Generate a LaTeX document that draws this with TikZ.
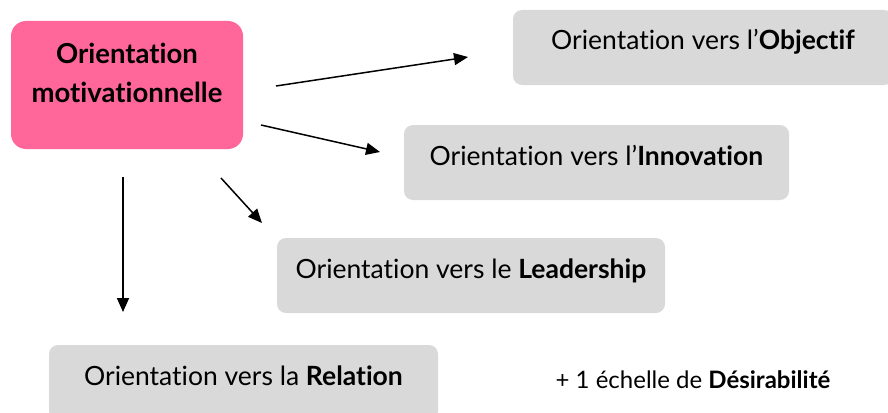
\documentclass[tikz,border=0pt]{standalone}
\usepackage{fontspec}
\setmainfont{Lato}[Ligatures=NoCommon]
\definecolor{MotivPink}{RGB}{255,102,153}
\definecolor{BoxGrey}{RGB}{217,217,217}
\usepackage{tikz}
\usetikzlibrary{arrows.meta, positioning}

\tikzset{
  greybox/.style={fill=BoxGrey, rounded corners=9pt, inner sep=0pt,
                  minimum height=75pt, text height=15pt, text depth=10pt,
                  font=\fontsize{26.5}{30}\selectfont},
  arrowline/.style={-{Triangle[length=14pt,width=12pt]}, line width=1.5pt}
}

\begin{document}
\begin{tikzpicture}[x=1pt, y=1pt]
      \useasboundingbox (0,0) rectangle (888,-412);

      % Central box
      \node[fill=MotivPink, rounded corners=15pt, minimum width=232pt,
            minimum height=128pt, inner sep=0pt, align=center,
            text height=60pt, text depth=26pt,
            font=\fontsize{27.5}{39}\selectfont\bfseries]
            (motiv) at (127,-85)
            {Orientation\\motivationnelle};

      % Orientation boxes
      \node[greybox, minimum width=380pt] (obj) at (703,-47.5)
            {Orientation vers l'\textbf{Objectif}};
      \node[greybox, minimum width=385pt] (inno) at (596.5,-162.5)
            {Orientation vers l'\textbf{Innovation}};
      \node[greybox, minimum width=388pt] (lead) at (471,-275.5)
            {Orientation vers le \textbf{Leadership}};
      \node[greybox, minimum width=389pt] (rel) at (243.5,-382.5)
            {Orientation vers la \textbf{Relation}};

      % Extra scale
      \node[font=\fontsize{24}{28}\selectfont, anchor=base] (desir) at (693,-388)
            {+ 1 échelle de \textbf{Désirabilité}};

      % Arrows
      \coordinate (s1) at (276,-86);  \coordinate (e1) at (468,-57);
      \coordinate (s2) at (261,-125); \coordinate (e2) at (380,-152);
      \coordinate (s3) at (221,-178); \coordinate (e3) at (262,-223);
      \coordinate (s4) at (123,-177); \coordinate (e4) at (123,-312);
      \draw[arrowline] (s1) -- (e1);
      \draw[arrowline] (s2) -- (e2);
      \draw[arrowline] (s3) -- (e3);
      \draw[arrowline] (s4) -- (e4);

\end{tikzpicture}
\end{document}
